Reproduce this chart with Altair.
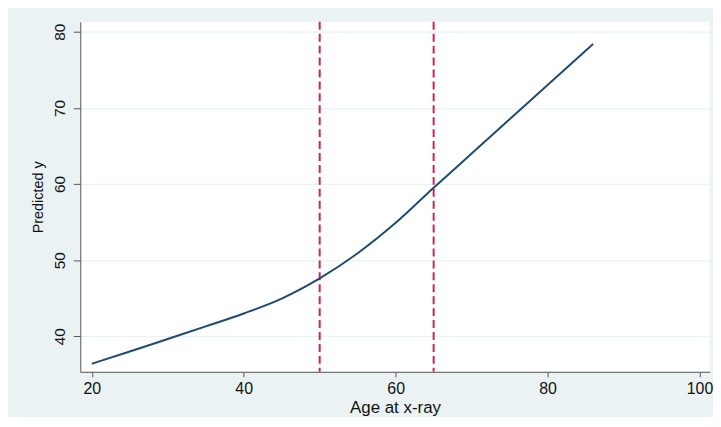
import altair as alt
import pandas as pd

ages = [20, 25, 30, 35, 40, 45, 50, 55, 60, 65, 70, 75, 80, 86]
predicted = [36.4, 38.0, 39.65, 41.3, 43.0, 44.95, 47.6, 50.9, 54.9, 59.5, 64.0, 68.5, 73.0, 78.4]
knots = [50, 65]
x_ticks = [20, 40, 60, 80, 100]
y_ticks = [40, 50, 60, 70, 80]

df = pd.DataFrame({"age": ages, "pred": predicted})
kdf = pd.DataFrame({"knot": knots})

xscale = alt.Scale(domain=[18.49, 101.34], nice=False, zero=False)
yscale = alt.Scale(domain=[35.34, 81.31], nice=False, zero=False)

line = alt.Chart(df).mark_line(color="#1F4B73", strokeWidth=2, interpolate="monotone").encode(
    x=alt.X("age:Q", scale=xscale,
            axis=alt.Axis(title="Age at x-ray", values=x_ticks, grid=False,
                          tickSize=5, labelPadding=4, labelFontSize=16,
                          titleFontSize=17, titleFontWeight="normal", titlePadding=3,
                          domainColor="#555555", tickColor="#555555",
                          labelColor="#111111", titleColor="#111111",
                          labelFont="Liberation Sans", titleFont="Liberation Sans")),
    y=alt.Y("pred:Q", scale=yscale,
            axis=alt.Axis(title="Predicted y", values=y_ticks, grid=True,
                          gridColor="#EAF2F3", gridWidth=1.2,
                          tickSize=7, labelAngle=270, labelAlign="center",
                          labelBaseline="bottom", labelPadding=6, labelFontSize=15.5,
                          titleFontSize=14.5, titleFontWeight="normal", titlePadding=7,
                          domainColor="#555555", tickColor="#555555",
                          labelColor="#111111", titleColor="#111111",
                          labelFont="Liberation Sans", titleFont="Liberation Sans")),
)

rules = alt.Chart(kdf).mark_rule(color="#CC2456", strokeWidth=2, strokeDash=[8, 4]).encode(
    x=alt.X("knot:Q", scale=xscale)
)

chart = alt.layer(rules, line).properties(
    width=633, height=352,
    autosize=alt.AutoSizeParams(type="none"),
    padding={"left": 72.7, "top": 12.7, "right": 3.3, "bottom": 44},
    background="#EAF2F3",
).configure_view(fill="white", stroke=None)

chart.save("out.html", embed_options={"renderer": "svg", "actions": False})
